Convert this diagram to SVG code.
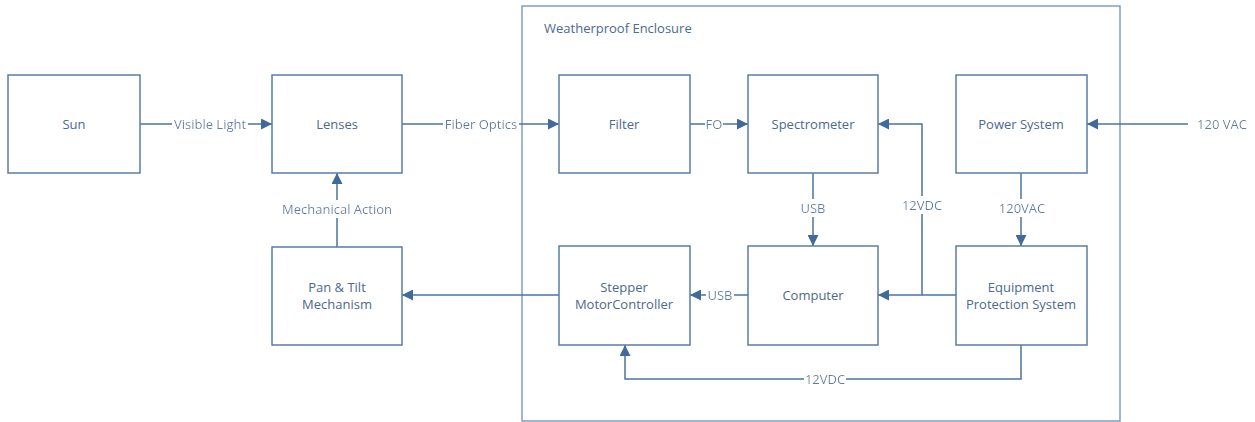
<svg xmlns="http://www.w3.org/2000/svg" width="1255" height="422" viewBox="0 0 1255 422">
<style>
.box{fill:#fff;stroke:#5a7da3;stroke-width:1.5}
.encl{fill:none;stroke:#7f9ec0;stroke-width:1.5}
.t{font-family:"Open Sans","Liberation Sans",sans-serif;font-size:13px;fill:#4a6a8e;text-anchor:middle;dominant-baseline:central}
.lbl{font-family:"Open Sans","Liberation Sans",sans-serif;font-size:13px;fill:#5a7da3;text-anchor:middle;dominant-baseline:central;filter:url(#bg)}
.c{fill:none;stroke:#4a73a0;stroke-width:1.5}
</style>
<defs>
<filter id="bg" x="-0.02" y="0" width="1.04" height="1">
<feFlood flood-color="#ffffff"/>
<feComposite in="SourceGraphic" operator="over"/>
</filter>
<marker id="ah" viewBox="0 0 11 11" refX="11" refY="5.5" markerWidth="11" markerHeight="11" markerUnits="userSpaceOnUse" orient="auto">
<path d="M0,0 L11,5.5 L0,11 z" fill="#3f6a99"/>
</marker>
</defs>
<g id="enclosure">
<rect class="encl" x="522" y="6" width="598" height="415"/>
<text class="t" x="544" y="28" style="text-anchor:start">Weatherproof Enclosure</text>
</g>
<g id="connectors">
<path class="c" d="M140,124 H272" marker-end="url(#ah)"/>
<path class="c" d="M402,124 H559" marker-end="url(#ah)"/>
<path class="c" d="M690,124 H748" marker-end="url(#ah)"/>
<path class="c" d="M1188,124 H1087" marker-end="url(#ah)"/>
<path class="c" d="M1021,173 V246" marker-end="url(#ah)"/>
<path class="c" d="M813,173 V246" marker-end="url(#ah)"/>
<path class="c" d="M956,295 H878" marker-end="url(#ah)"/>
<path class="c" d="M922,295 V124 H878" marker-end="url(#ah)"/>
<path class="c" d="M748,295 H690" marker-end="url(#ah)"/>
<path class="c" d="M559,295 H402" marker-end="url(#ah)"/>
<path class="c" d="M337,247 V173" marker-end="url(#ah)"/>
<path class="c" d="M1021,345 V379 H625 V345" marker-end="url(#ah)"/>
<text class="lbl" x="210" y="124">Visible Light</text>
<text class="lbl" x="481" y="124">Fiber Optics</text>
<text class="lbl" x="714" y="124">FO</text>
<text class="lbl" x="1222" y="124">120 VAC</text>
<text class="lbl" x="1022" y="208">120VAC</text>
<text class="lbl" x="922" y="205">12VDC</text>
<text class="lbl" x="813" y="208">USB</text>
<text class="lbl" x="720" y="295">USB</text>
<text class="lbl" x="337" y="209">Mechanical Action</text>
<text class="lbl" x="825" y="379">12VDC</text>
</g>
<g id="sun"><rect class="box" x="8" y="75" width="132" height="98"/><text class="t" x="74" y="124">Sun</text></g>
<g id="lenses"><rect class="box" x="272" y="75" width="130" height="98"/><text class="t" x="337" y="124">Lenses</text></g>
<g id="pantilt"><rect class="box" x="272" y="247" width="130" height="98"/><text class="t" x="337" y="287">Pan &amp; Tilt</text><text class="t" x="337" y="304">Mechanism</text></g>
<g id="filter"><rect class="box" x="559" y="75" width="131" height="98"/><text class="t" x="624" y="124">Filter</text></g>
<g id="spectrometer"><rect class="box" x="748" y="75" width="130" height="98"/><text class="t" x="813" y="124">Spectrometer</text></g>
<g id="power"><rect class="box" x="956" y="75" width="131" height="98"/><text class="t" x="1021" y="124">Power System</text></g>
<g id="stepper"><rect class="box" x="559" y="246" width="131" height="99"/><text class="t" x="624" y="287">Stepper</text><text class="t" x="624" y="304">MotorController</text></g>
<g id="computer"><rect class="box" x="748" y="246" width="130" height="99"/><text class="t" x="813" y="295">Computer</text></g>
<g id="eps"><rect class="box" x="956" y="246" width="131" height="99"/><text class="t" x="1021" y="287">Equipment</text><text class="t" x="1021" y="304">Protection System</text></g>
</svg>
